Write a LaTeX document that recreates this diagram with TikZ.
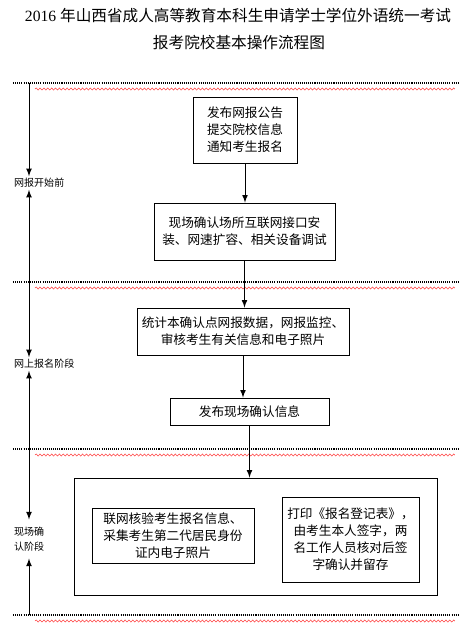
\documentclass[tikz,border=0pt]{standalone}
\usepackage{fontspec}
\setmainfont{Liberation Serif}
\newfontfamily\cjk{Noto Sans CJK SC}
\usetikzlibrary{decorations.pathmorphing}
\begin{document}
\begin{tikzpicture}[x=0.02cm,y=-0.02cm,>=latex,line width=0.5pt,
  box/.style={draw,align=center,inner sep=0pt,font=\cjk\fontsize{7.2}{9.7}\selectfont},
  stage/.style={align=left,inner sep=1pt,font=\cjk\fontsize{5.7}{8.5}\selectfont},
  sep/.style={line width=0.6pt,dash pattern=on 0.6pt off 0.6pt},
  wave/.style={red!75,line width=0.3pt,decorate,decoration={snake,amplitude=0.6pt,segment length=2.2pt}}]
\useasboundingbox (0,0) rectangle (473,627);
\node (title1) at (238,16) {\fontsize{8.9}{10}\selectfont 2016 {\cjk 年山西省成人高等教育本科生申请学士学位外语统一考试}};
\node (title2) at (239,43) {\cjk\fontsize{8.9}{10}\selectfont 报考院校基本操作流程图};
% stage separators
\foreach \y in {83,282,449,615} {
  \draw[sep] (13,\y) -- (459,\y);
  \draw[wave] (35,\y+6) -- (455,\y+6);
}
% stages on the left
\coordinate (s1top) at (29,83);
\coordinate (s1bot) at (29,282);
\coordinate (s2top) at (29,282);
\coordinate (s2bot) at (29,449);
\coordinate (s3top) at (29,449);
\coordinate (s3bot) at (29,615);
\node[stage,anchor=west] (stage1) at (12,183) {网报开始前};
\node[stage,anchor=west] (stage2) at (12,364) {网上报名阶段};
\node[stage,anchor=west,inner ysep=4pt] (stage3) at (12,539) {现场确\\认阶段};
\draw[->] (s1top) -- (s1top |- stage1.north);
\draw[->] (s1bot) -- (s1bot |- stage1.south);
\draw[->] (s2top) -- (s2top |- stage2.north);
\draw[->] (s2bot) -- (s2bot |- stage2.south);
\draw[->] (s3top) -- (s3top |- stage3.north);
\draw[->] (s3bot) -- (s3bot |- stage3.south);
% steps
\node[box,align=left,minimum width=2.08cm,minimum height=1.32cm] (notice) at (245,130) {发布网报公告\\提交院校信息\\通知考生报名};
\node[box,minimum width=3.62cm,minimum height=1.14cm] (setup) at (244.5,231.5) {现场确认场所互联网接口安\\装、网速扩容、相关设备调试};
\node[box,minimum width=4.24cm,minimum height=0.94cm] (stats) at (243,331.5) {统计本确认点网报数据，网报监控、\\审核考生有关信息和电子照片};
\node[box,minimum width=3.18cm,minimum height=0.54cm] (publish) at (249.5,411.5) {发布现场确认信息};
\node[draw,minimum width=7.26cm,minimum height=2.34cm,inner sep=0pt] (onsite) at (255.5,536.5) {};
\node[box,minimum width=3.24cm,minimum height=1.1cm] (verify) at (173,535.5) {联网核验考生报名信息、\\采集考生第二代居民身份\\证内电子照片};
\node[box,minimum width=2.74cm,minimum height=1.7cm] (print) at (350.5,539.5) {打印《报名登记表》，\\由考生本人签字，两\\名工作人员核对后签\\字确认并留存};
\draw[->] (notice.south) -- (notice.south |- setup.north);
\draw[->] (setup.south) -- (setup.south |- stats.north);
\draw[->] (stats.south) -- (stats.south |- publish.north);
\draw[->] (publish.south) -- (publish.south |- onsite.north);
\end{tikzpicture}
\end{document}
